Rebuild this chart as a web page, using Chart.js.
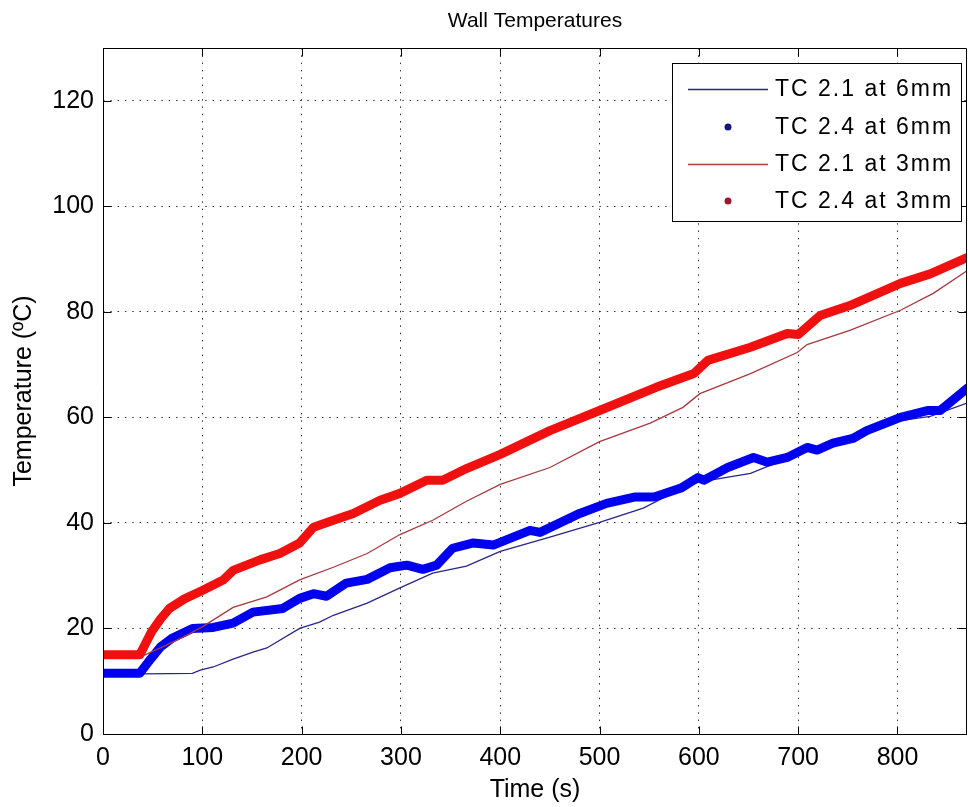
<!DOCTYPE html>
<html>
<head>
<meta charset="utf-8">
<script src="https://cdn.jsdelivr.net/npm/chart.js@4.4.1/dist/chart.umd.min.js"></script>
<style>
  html, body { margin: 0; padding: 0; background: #fff; }
</style>
</head>
<body>
<canvas id="myChart" width="968" height="807"></canvas>
<script>
const ctx = document.getElementById("myChart");

const seriesNames = ["TC 2.1 at 6mm", "TC 2.4 at 6mm", "TC 2.1 at 3mm", "TC 2.4 at 3mm"];

// TC 2.1 at 6mm (thin blue line)
const time21at6 = [0, 40, 90, 98, 111, 131, 151, 165, 198, 218, 232, 266, 299, 332, 366, 400, 450, 500, 544, 588, 601, 652, 702, 752, 803, 833, 870];
const temp21at6 = [11.5, 11.4, 11.5, 12.1, 12.7, 14.2, 15.5, 16.3, 20, 21.2, 22.5, 24.8, 27.7, 30.5, 31.8, 34.6, 37.3, 40.1, 42.8, 47.0, 47.8, 49.4, 53.2, 55.6, 59.4, 60.2, 62.7];

// TC 2.4 at 6mm (blue dots)
const time24at6 = [0, 37, 48, 58, 70, 90, 111, 131, 151, 181, 198, 212, 225, 245, 266, 289, 306, 322, 336, 352, 373, 393, 413, 430, 440, 460, 480, 507, 535, 555, 582, 599, 605, 629, 655, 669, 689, 709, 719, 735, 755, 769, 803, 830, 843, 870];
const temp24at6 = [11.5, 11.5, 14.2, 16.5, 18.2, 20, 20.2, 21, 23.1, 23.8, 25.7, 26.6, 26.1, 28.6, 29.3, 31.5, 32, 31.2, 32, 35.2, 36.2, 35.8, 37.3, 38.6, 38.2, 40, 41.8, 43.7, 44.9, 44.9, 46.6, 48.6, 48.1, 50.5, 52.4, 51.5, 52.4, 54.3, 53.8, 55.1, 56, 57.5, 60, 61.3, 61.3, 65.5];

// TC 2.1 at 3mm (thin red line)
const time21at3 = [0, 40, 60, 81, 100, 131, 165, 198, 232, 266, 299, 332, 366, 400, 450, 500, 551, 584, 601, 652, 699, 709, 752, 803, 836, 870];
const temp21at3 = [15, 14.8, 16.5, 18.4, 20.3, 24, 26, 29.2, 31.6, 34.2, 37.8, 40.5, 44.1, 47.3, 50.5, 55.4, 58.9, 61.9, 64.5, 68.3, 72.3, 73.8, 76.5, 80.3, 83.5, 87.8];

// TC 2.4 at 3mm (red dots)
const time24at3 = [0, 37, 49, 58, 67, 82, 100, 121, 131, 158, 178, 198, 212, 232, 252, 279, 299, 326, 342, 366, 400, 450, 500, 557, 595, 609, 652, 689, 700, 722, 752, 803, 833, 870];
const temp24at3 = [15, 15, 19.4, 21.8, 23.8, 25.6, 27.2, 29.2, 31, 33, 34.2, 36.2, 39.2, 40.5, 41.8, 44.3, 45.6, 48.1, 48.1, 50.3, 53, 57.5, 61.3, 65.7, 68.3, 70.8, 73.3, 75.9, 75.7, 79.3, 81.2, 85.4, 87.2, 90.3];

const timeTicks = [0, 100, 200, 300, 400, 500, 600, 700, 800];
const tempTicks = [0, 20, 40, 60, 80, 100, 120];

function toPoints(xs, ys) {
  return xs.map((x, i) => ({ x: x, y: ys[i] }));
}

const FONT = "'Liberation Sans', Arial, Helvetica, sans-serif";
Chart.defaults.font.family = FONT;
Chart.defaults.color = "#000";

// box round the axes with inward ticks, like matlab
const axesBox = {
  id: "axesBox",
  afterDatasetsDraw(chart) {
    const c = chart.ctx;
    const a = chart.chartArea;
    const xs = chart.scales.x, ys = chart.scales.y;
    const L = Math.round(a.left) + 0.5, R = Math.round(a.right) - 0.5;
    const T = Math.round(a.top) + 0.5, B = Math.round(a.bottom) + 0.5;
    const tl = 8;
    c.save();
    c.strokeStyle = "#000";
    c.lineWidth = 1;
    c.beginPath();
    c.rect(L, T, R - L, B - T);
    timeTicks.forEach((v) => {
      const px = Math.round(xs.getPixelForValue(v)) + 0.5;
      c.moveTo(px, B); c.lineTo(px, B - tl);
      c.moveTo(px, T); c.lineTo(px, T + tl);
    });
    tempTicks.forEach((v) => {
      const py = Math.round(ys.getPixelForValue(v)) + 0.5;
      c.moveTo(L, py); c.lineTo(L + tl, py);
      c.moveTo(R, py); c.lineTo(R - tl, py);
    });
    c.stroke();
    c.restore();
  },
};

// legend box in the top right corner
const boxLegend = {
  id: "boxLegend",
  afterDraw(chart) {
    const c = chart.ctx;
    const left = 672.5, top = 63.5, w = 289, h = 158;
    const rows = [89, 127, 164, 201];
    c.save();
    c.fillStyle = "#fff";
    c.fillRect(left, top, w, h);
    c.strokeStyle = "#000";
    c.lineWidth = 1;
    c.strokeRect(left, top, w, h);
    chart.data.datasets.forEach((ds, i) => {
      const y = rows[i];
      if (ds.legendDot) {
        c.fillStyle = ds.legendColor;
        c.beginPath();
        c.arc(728, y, 3.5, 0, Math.PI * 2);
        c.fill();
      } else {
        c.strokeStyle = ds.legendColor;
        c.lineWidth = 1.5;
        c.beginPath();
        c.moveTo(688, y + 0.5);
        c.lineTo(768, y + 0.5);
        c.stroke();
      }
      c.fillStyle = "#000";
      c.font = "23px " + FONT;
      c.letterSpacing = "2px";
      c.textBaseline = "middle";
      c.fillText(ds.label, 775, y + 1);
    });
    c.restore();
  },
};

new Chart(ctx, {
  type: "line",
  data: {
    datasets: [
      {
        label: seriesNames[0],
        data: toPoints(time21at6, temp21at6),
        borderColor: "#26268c",
        legendColor: "#26268c",
        borderWidth: 1.3,
        pointRadius: 0,
        order: 4,
      },
      {
        label: seriesNames[1],
        data: toPoints(time24at6, temp24at6),
        borderColor: "#0000f0",
        legendColor: "#14147a",
        legendDot: true,
        borderWidth: 9,
        borderJoinStyle: "round",
        borderCapStyle: "round",
        pointRadius: 0,
        order: 3,
      },
      {
        label: seriesNames[2],
        data: toPoints(time21at3, temp21at3),
        borderColor: "#a8383c",
        legendColor: "#b04040",
        borderWidth: 1.3,
        pointRadius: 0,
        order: 2,
      },
      {
        label: seriesNames[3],
        data: toPoints(time24at3, temp24at3),
        borderColor: "#f01010",
        legendColor: "#9a1830",
        legendDot: true,
        borderWidth: 9,
        borderJoinStyle: "round",
        borderCapStyle: "round",
        pointRadius: 0,
        order: 1,
      },
    ],
  },
  options: {
    responsive: false,
    animation: false,
    layout: { padding: { left: 0, right: 1, top: 0, bottom: 0 } },
    plugins: {
      legend: { display: false },
      tooltip: { enabled: false },
      title: {
        display: true,
        fullSize: false,
        text: "Wall Temperatures",
        color: "#000",
        font: { size: 21, weight: "normal" },
        padding: { top: 9, bottom: 13.8 },
      },
    },
    scales: {
      x: {
        type: "linear",
        min: 0,
        max: 870,
        afterBuildTicks: (scale) => {
          scale.ticks = timeTicks.map((v) => ({ value: v }));
        },
        afterFit: (scale) => {
          scale.height = 73;
        },
        ticks: {
          color: "#000",
          font: { size: 25 },
          padding: 9,
          maxRotation: 0,
          autoSkip: false,
        },
        grid: {
          color: "#333",
          lineWidth: 1,
          drawTicks: false,
        },
        border: { display: false, dash: [1.5, 5.8] },
        title: {
          display: true,
          text: "Time (s)",
          color: "#000",
          font: { size: 25 },
          padding: { top: 0, bottom: 2 },
        },
      },
      y: {
        type: "linear",
        min: 0,
        max: 130,
        afterBuildTicks: (scale) => {
          scale.ticks = tempTicks.map((v) => ({ value: v }));
        },
        afterFit: (scale) => {
          scale.width = 103;
        },
        ticks: {
          color: "#000",
          font: { size: 25 },
          padding: 9,
          autoSkip: false,
        },
        grid: {
          color: "#333",
          lineWidth: 1,
          drawTicks: false,
        },
        border: { display: false, dash: [1.5, 5.8] },
        title: {
          display: true,
          text: "Temperature (ºC)",
          color: "#000",
          font: { size: 25 },
          padding: { top: 9, bottom: 0 },
        },
      },
    },
  },
  plugins: [axesBox, boxLegend],
});
</script>
</body>
</html>
